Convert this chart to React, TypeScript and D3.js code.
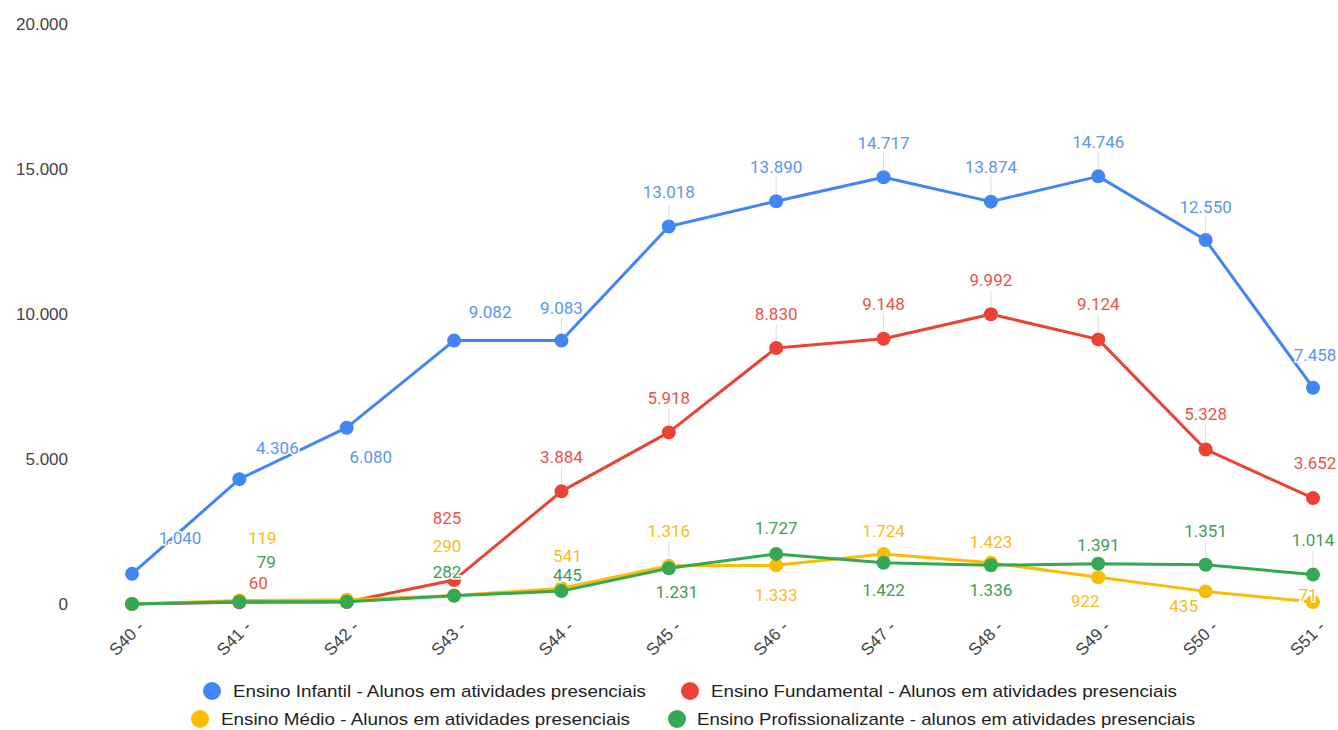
import React, { useRef, useEffect } from 'react';
import * as d3 from 'd3';

const weeks = ['S40 -', 'S41 -', 'S42 -', 'S43 -', 'S44 -', 'S45 -', 'S46 -', 'S47 -', 'S48 -', 'S49 -', 'S50 -', 'S51 -'];

const infantil = [1040, 4306, 6080, 9082, 9083, 13018, 13890, 14717, 13874, 14746, 12550, 7458];
const fundamental = [0, 60, 70, 825, 3884, 5918, 8830, 9148, 9992, 9124, 5328, 3652];
const medio = [0, 119, 150, 290, 541, 1316, 1333, 1724, 1423, 922, 435, 71];
const profissionalizante = [0, 79, 80, 282, 445, 1231, 1727, 1422, 1336, 1391, 1351, 1014];

const yTicks = [0, 5000, 10000, 15000, 20000];

const seriesNames = [
  'Ensino Infantil - Alunos em atividades presenciais',
  'Ensino Fundamental - Alunos em atividades presenciais',
  'Ensino Médio - Alunos em atividades presenciais',
  'Ensino Profissionalizante - alunos em atividades presenciais',
];

const colors = ['#4285F4', '#EA4335', '#FBBC04', '#34A853'];
const labelColors = ['#5b95f5', '#e8544b', '#f6bd1c', '#3f9c5a'];

// label placement (dx, dy) relative to each point; null = no label shown
type Off = [number, number] | null;
const labelOffsets: Off[][] = [
  [[48, -36], [38, -31], [24, 29], [36, -29], [0, -33], [0, -34], [0, -34], [0, -34], [0, -35], [0, -34], [0, -33], [2, -33]],
  [null, [19, -19], null, [-7, -62], [0, -34], [0, -34], [0, -34], [0, -35], [0, -34], [0, -35], [0, -35], [2, -35]],
  [null, [23, -62], null, [-7, -50], [6, -32], [0, -35], [0, 30], [0, -23], [0, -21], [-13, 24], [-22, 15], [-5, -7]],
  [null, [27, -40], null, [-7, -24], [6, -16], [8, 24], [0, -26], [0, 27], [0, 25], [0, -19], [0, -34], [0, -35]],
];

const fmt = (v: number) => d3.format(',')(v).replace(/,/g, '.');

const W = 1338;
const H = 730;

const App: React.FC = () => {
  const svgRef = useRef<SVGSVGElement>(null);

  useEffect(() => {
    if (!svgRef.current) return;
    const svg = d3.select(svgRef.current);
    svg.selectAll('*').remove();

    const series = [infantil, fundamental, medio, profissionalizante];

    const x = d3.scalePoint<string>().domain(weeks).range([132, 1313]);
    const y = d3.scaleLinear().domain([0, 20000]).range([604, 24]);

    // Y axis labels
    svg.append('g')
      .selectAll('text')
      .data(yTicks)
      .join('text')
      .attr('x', 68)
      .attr('y', d => y(d))
      .attr('dy', '0.35em')
      .attr('text-anchor', 'end')
      .style('font-family', '"Liberation Sans", Arial, sans-serif')
      .style('font-size', '17px')
      .style('fill', '#444')
      .text(d => fmt(d));

    // X axis labels
    svg.append('g')
      .selectAll('text')
      .data(weeks)
      .join('text')
      .attr('transform', d => `translate(${(x(d) || 0) + 13},${628}) rotate(-45)`)
      .attr('text-anchor', 'end')
      .style('font-family', '"Liberation Sans", Arial, sans-serif')
      .style('font-size', '17px')
      .style('fill', '#444')
      .text(d => d);

    const line = d3.line<number>()
      .x((_, i) => x(weeks[i]) || 0)
      .y(d => y(d));

    // lines and points
    series.forEach((vals, si) => {
      const g = svg.append('g');
      g.append('path')
        .datum(vals)
        .attr('d', line)
        .attr('fill', 'none')
        .attr('stroke', colors[si])
        .attr('stroke-width', 3)
        .attr('stroke-linejoin', 'round');
      g.selectAll('circle')
        .data(vals)
        .join('circle')
        .attr('cx', (_, i) => x(weeks[i]) || 0)
        .attr('cy', d => y(d))
        .attr('r', 7)
        .attr('fill', colors[si]);
    });

    // stems + labels
    series.forEach((vals, si) => {
      const g = svg.append('g');
      vals.forEach((v, i) => {
        const off = labelOffsets[si][i];
        if (!off) return;
        const px = x(weeks[i]) || 0;
        const py = y(v);
        if (off[0] === 0 && off[1] <= -30) {
          g.append('line')
            .attr('x1', px).attr('x2', px)
            .attr('y1', py + off[1] + 10).attr('y2', py - 7)
            .attr('stroke', '#dcdcdc')
            .attr('stroke-width', 1);
        }
        g.append('text')
          .attr('x', px + off[0])
          .attr('y', py + off[1])
          .attr('dy', '0.35em')
          .attr('text-anchor', 'middle')
          .style('font-family', 'Roboto, sans-serif')
          .style('font-size', '17px')
          .style('fill', labelColors[si])
          .style('stroke', '#fff')
          .style('stroke-width', 3)
          .style('paint-order', 'stroke')
          .text(fmt(v));
      });
    });

    // legend
    const legend = [
      { cx: 212, tx: 233, cy: 691, w: 413 },
      { cx: 690, tx: 711, cy: 691, w: 466 },
      { cx: 200, tx: 221, cy: 719, w: 409 },
      { cx: 677, tx: 697, cy: 719, w: 498 },
    ];
    const lg = svg.append('g');
    legend.forEach((l, i) => {
      lg.append('circle').attr('cx', l.cx).attr('cy', l.cy).attr('r', 9).attr('fill', colors[i]);
      lg.append('text')
        .attr('x', l.tx)
        .attr('y', l.cy)
        .attr('dy', '0.35em')
        .attr('textLength', l.w)
        .attr('lengthAdjust', 'spacingAndGlyphs')
        .style('font-family', '"Liberation Sans", Arial, sans-serif')
        .style('font-size', '17px')
        .style('fill', '#222')
        .text(seriesNames[i]);
    });
  }, []);

  return (
    <div style={{ position: 'fixed', left: 0, top: 0, background: '#fff' }}>
      <svg ref={svgRef} width={W} height={H} />
    </div>
  );
};

export default App;
